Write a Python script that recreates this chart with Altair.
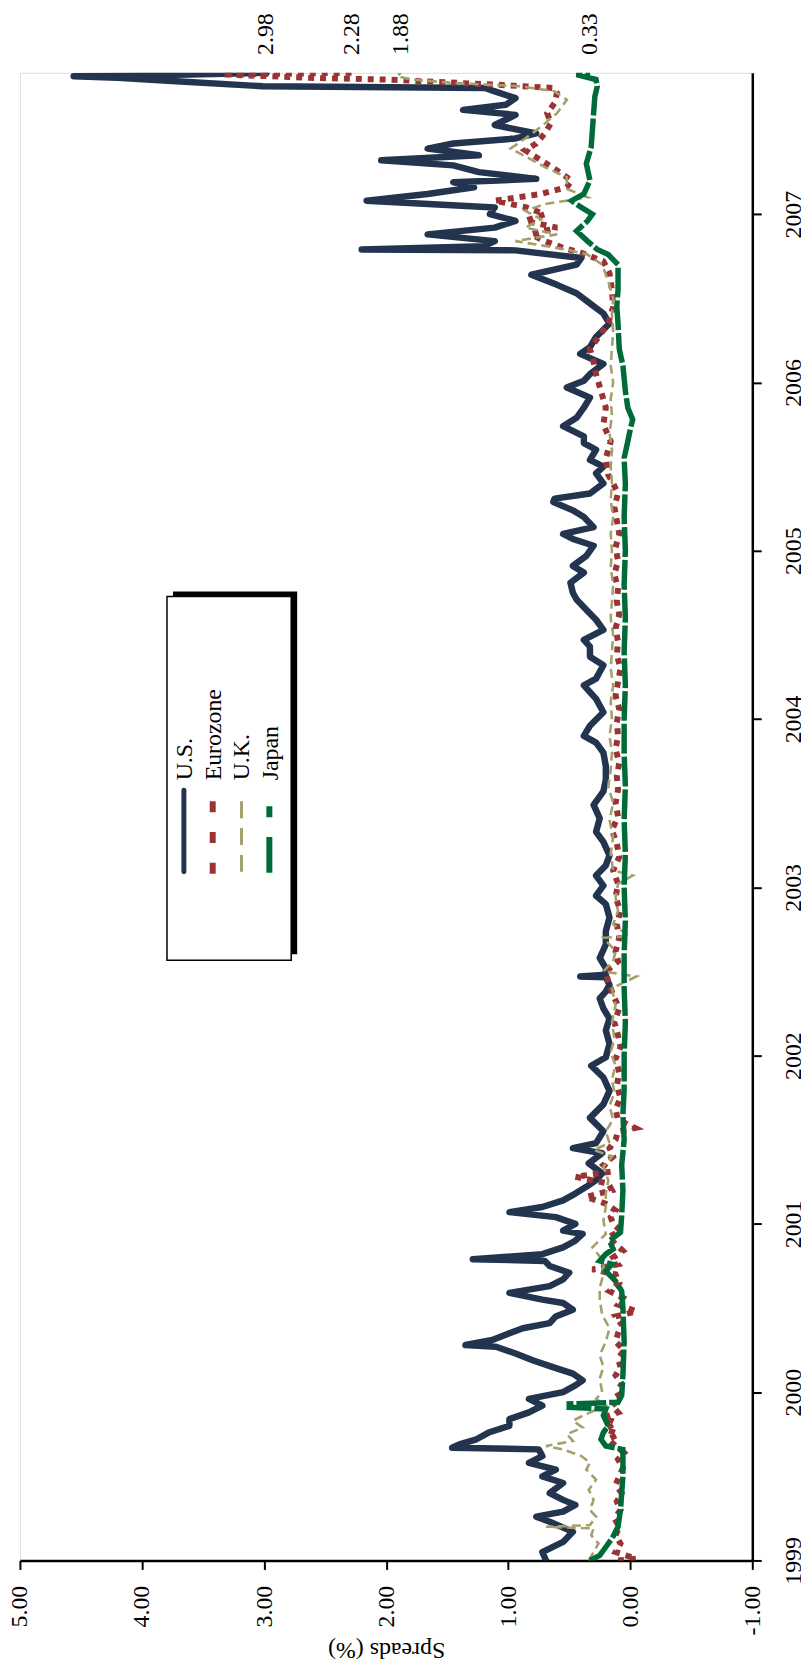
import altair as alt
import pandas as pd

# ---------------- data (decimal years, spread in %) ----------------
us_year = [1999.00, 1999.05, 1999.11, 1999.17, 1999.23, 1999.26, 1999.29, 1999.33, 1999.36, 1999.40,
           1999.46, 1999.50, 1999.54, 1999.58, 1999.62, 1999.66, 1999.67, 1999.69, 1999.72, 1999.76,
           1999.80, 1999.84, 1999.88, 1999.92, 1999.96, 2000.00, 2000.04, 2000.07, 2000.11, 2000.15,
           2000.19, 2000.23, 2000.27, 2000.28, 2000.31, 2000.35, 2000.38, 2000.41, 2000.45, 2000.49,
           2000.53, 2000.55, 2000.59, 2000.63, 2000.67, 2000.71, 2000.75, 2000.78, 2000.79, 2000.82,
           2000.86, 2000.90, 2000.94, 2000.96, 2001.00, 2001.04, 2001.07, 2001.10, 2001.14, 2001.18,
           2001.22, 2001.26, 2001.30, 2001.36, 2001.42, 2001.45, 2001.48, 2001.55, 2001.63, 2001.71,
           2001.79, 2001.87, 2001.94, 2001.99, 2002.07, 2002.15, 2002.22, 2002.28, 2002.34, 2002.38,
           2002.42, 2002.465, 2002.47, 2002.48, 2002.52, 2002.58, 2002.66, 2002.74, 2002.82, 2002.90,
           2002.95, 2003.01, 2003.07, 2003.13, 2003.19, 2003.27, 2003.33, 2003.41, 2003.49, 2003.57,
           2003.64, 2003.72, 2003.80, 2003.86, 2003.90, 2003.96, 2004.04, 2004.12, 2004.20, 2004.24,
           2004.32, 2004.37, 2004.43, 2004.47, 2004.53, 2004.59, 2004.65, 2004.71, 2004.75, 2004.81,
           2004.87, 2004.91, 2004.97, 2005.03, 2005.07, 2005.10, 2005.14, 2005.20, 2005.24, 2005.29,
           2005.31, 2005.34, 2005.40, 2005.46, 2005.50, 2005.54, 2005.60, 2005.64, 2005.68, 2005.74,
           2005.79, 2005.85, 2005.91, 2005.97, 2006.01, 2006.05, 2006.11, 2006.17, 2006.21, 2006.27,
           2006.35, 2006.41, 2006.47, 2006.53, 2006.58, 2006.64, 2006.70, 2006.74, 2006.785, 2006.79,
           2006.81, 2006.84, 2006.88, 2006.92, 2006.96, 2007.00, 2007.04, 2007.08, 2007.12, 2007.16,
           2007.19, 2007.21, 2007.25, 2007.29, 2007.32, 2007.35, 2007.39, 2007.42, 2007.45, 2007.48,
           2007.53, 2007.59, 2007.62, 2007.65, 2007.69, 2007.73, 2007.75, 2007.76, 2007.79, 2007.81,
           2007.82, 2007.83, 2007.84]
us_val = [0.69, 0.72, 0.55, 0.47, 0.66, 0.77, 0.55, 0.45, 0.55, 0.66,
          0.55, 0.72, 0.61, 0.83, 0.72, 0.75, 1.46, 1.40, 1.26, 1.16,
          0.99, 0.99, 0.83, 0.72, 0.83, 0.55, 0.45, 0.39, 0.47, 0.64,
          0.80, 0.94, 1.10, 1.35, 1.13, 0.99, 0.88, 0.66, 0.61, 0.47,
          0.55, 0.72, 0.99, 0.66, 0.55, 0.50, 0.66, 0.70, 1.29, 0.72,
          0.55, 0.45, 0.39, 0.55, 0.45, 0.61, 0.99, 0.72, 0.55, 0.45,
          0.36, 0.28, 0.23, 0.34, 0.23, 0.47, 0.28, 0.22, 0.33, 0.22,
          0.17, 0.22, 0.32, 0.20, 0.17, 0.20, 0.17, 0.22, 0.25, 0.20,
          0.17, 0.20, 0.41, 0.20, 0.20, 0.25, 0.20, 0.20, 0.17, 0.20,
          0.28, 0.22, 0.28, 0.20, 0.17, 0.22, 0.28, 0.25, 0.30, 0.22,
          0.20, 0.20, 0.22, 0.28, 0.38, 0.33, 0.22, 0.28, 0.38, 0.28,
          0.22, 0.33, 0.33, 0.38, 0.22, 0.28, 0.36, 0.44, 0.47, 0.49,
          0.38, 0.47, 0.36, 0.30, 0.47, 0.55, 0.30, 0.38, 0.47, 0.63,
          0.62, 0.33, 0.22, 0.28, 0.22, 0.33, 0.28, 0.38, 0.38, 0.55,
          0.44, 0.38, 0.33, 0.52, 0.38, 0.33, 0.22, 0.41, 0.33, 0.28,
          0.17, 0.22, 0.33, 0.44, 0.60, 0.81, 0.44, 0.40, 0.94, 2.20,
          1.20, 1.11, 1.66, 1.11, 0.94, 1.15, 1.11, 2.16, 1.66, 1.28,
          1.45, 0.77, 1.24, 1.45, 2.04, 1.24, 1.66, 1.45, 0.94, 0.77,
          1.11, 0.94, 1.37, 1.02, 0.94, 1.11, 1.19, 3.01, 3.72, 4.20,
          4.56, 3.60, 2.98]

ez_year = [1999.00, 1999.01, 1999.05, 1999.10, 1999.15, 1999.20, 1999.25, 1999.30, 1999.35, 1999.40,
           1999.45, 1999.50, 1999.55, 1999.60, 1999.64, 1999.68, 1999.72, 1999.75, 1999.78, 1999.82,
           1999.85, 1999.88, 1999.92, 1999.96, 2000.00, 2000.05, 2000.10, 2000.15, 2000.20, 2000.25,
           2000.30, 2000.35, 2000.40, 2000.45, 2000.48, 2000.52, 2000.56, 2000.60, 2000.65, 2000.70,
           2000.73, 2000.76, 2000.80, 2000.84, 2000.88, 2000.92, 2000.96, 2001.00, 2001.04, 2001.08,
           2001.12, 2001.16, 2001.20, 2001.24, 2001.28, 2001.31, 2001.35, 2001.40, 2001.45, 2001.50,
           2001.55, 2001.57, 2001.62, 2001.68, 2001.75, 2001.82, 2001.90, 2001.98, 2002.05, 2002.12,
           2002.20, 2002.28, 2002.36, 2002.44, 2002.50, 2002.56, 2002.62, 2002.70, 2002.78, 2002.86,
           2002.94, 2003.02, 2003.10, 2003.18, 2003.26, 2003.34, 2003.42, 2003.50, 2003.58, 2003.66,
           2003.74, 2003.82, 2003.90, 2003.98, 2004.06, 2004.14, 2004.22, 2004.30, 2004.38, 2004.46,
           2004.54, 2004.62, 2004.70, 2004.78, 2004.86, 2004.94, 2005.02, 2005.10, 2005.18, 2005.26,
           2005.34, 2005.40, 2005.45, 2005.55, 2005.65, 2005.75, 2005.85, 2005.95, 2006.05, 2006.12,
           2006.20, 2006.27, 2006.35, 2006.45, 2006.55, 2006.65, 2006.72, 2006.77, 2006.80, 2006.84,
           2006.88, 2006.92, 2006.96, 2007.00, 2007.04, 2007.08, 2007.12, 2007.16, 2007.20, 2007.26,
           2007.32, 2007.38, 2007.42, 2007.48, 2007.54, 2007.60, 2007.66, 2007.72, 2007.75, 2007.77,
           2007.79, 2007.80, 2007.81, 2007.82, 2007.83, 2007.84]
ez_val = [0.10, -0.05, 0.12, 0.08, 0.12, 0.09, 0.13, 0.08, 0.11, 0.07,
          0.12, 0.09, 0.06, 0.10, 0.05, 0.12, 0.18, 0.10, 0.20, 0.12,
          0.22, 0.10, 0.15, 0.08, 0.11, 0.07, 0.12, 0.08, 0.10, 0.05,
          0.12, 0.10, 0.07, 0.12, -0.05, 0.10, 0.06, 0.17, 0.09, 0.12,
          0.31, 0.10, 0.14, 0.06, 0.12, 0.18, 0.08, 0.14, 0.16, 0.12,
          0.20, 0.36, 0.15, 0.18, 0.45, 0.16, 0.22, 0.14, 0.17, 0.12,
          0.10, -0.04, 0.10, 0.12, 0.08, 0.11, 0.09, 0.12, 0.08, 0.10,
          0.13, 0.09, 0.14, 0.18, 0.20, 0.10, 0.12, 0.09, 0.11, 0.08,
          0.12, 0.10, 0.14, 0.09, 0.11, 0.15, 0.10, 0.12, 0.10, 0.11,
          0.09, 0.12, 0.10, 0.11, 0.09, 0.12, 0.10, 0.08, 0.11, 0.10,
          0.12, 0.09, 0.11, 0.10, 0.13, 0.10, 0.12, 0.09, 0.11, 0.13,
          0.10, 0.14, 0.18, 0.20, 0.16, 0.22, 0.20, 0.24, 0.28, 0.30,
          0.33, 0.26, 0.18, 0.14, 0.15, 0.17, 0.22, 0.40, 0.55, 0.70,
          0.81, 0.60, 0.86, 0.70, 0.85, 1.11, 0.73, 0.52, 0.48, 0.60,
          0.73, 0.86, 0.77, 0.70, 0.65, 0.68, 0.62, 0.60, 0.63, 1.11,
          1.70, 2.00, 2.63, 2.97, 3.34, 2.28]

uk_year = [1999.00, 1999.05, 1999.10, 1999.15, 1999.19, 1999.20, 1999.21, 1999.26, 1999.30, 1999.36,
           1999.42, 1999.48, 1999.54, 1999.58, 1999.62, 1999.66, 1999.68, 1999.71, 1999.75, 1999.79,
           1999.83, 1999.87, 1999.92, 1999.96, 2000.00, 2000.08, 2000.15, 2000.22, 2000.30, 2000.38,
           2000.46, 2000.55, 2000.62, 2000.70, 2000.78, 2000.86, 2000.94, 2001.02, 2001.10, 2001.18,
           2001.26, 2001.34, 2001.40, 2001.44, 2001.48, 2001.55, 2001.62, 2001.70, 2001.78, 2001.86,
           2001.94, 2002.02, 2002.10, 2002.20, 2002.30, 2002.40, 2002.47, 2002.50, 2002.56, 2002.62,
           2002.70, 2002.71, 2002.78, 2002.86, 2002.94, 2003.02, 2003.07, 2003.10, 2003.20, 2003.30,
           2003.40, 2003.50, 2003.60, 2003.70, 2003.80, 2003.90, 2004.00, 2004.10, 2004.20, 2004.30,
           2004.40, 2004.50, 2004.60, 2004.70, 2004.80, 2004.90, 2005.00, 2005.10, 2005.20, 2005.30,
           2005.40, 2005.50, 2005.60, 2005.70, 2005.80, 2005.90, 2006.00, 2006.10, 2006.20, 2006.30,
           2006.40, 2006.50, 2006.60, 2006.70, 2006.76, 2006.79, 2006.84, 2006.88, 2006.92, 2006.97,
           2007.02, 2007.06, 2007.10, 2007.15, 2007.22, 2007.28, 2007.34, 2007.39, 2007.45, 2007.52,
           2007.60, 2007.68, 2007.73, 2007.76, 2007.78, 2007.80, 2007.82, 2007.84]
uk_val = [0.34, 0.30, 0.26, 0.32, 0.30, 0.69, 0.33, 0.28, 0.33, 0.30,
          0.34, 0.28, 0.36, 0.33, 0.40, 0.55, 0.69, 0.47, 0.52, 0.39,
          0.47, 0.36, 0.20, 0.28, 0.23, 0.25, 0.22, 0.25, 0.20, 0.17,
          0.23, 0.25, 0.25, 0.22, 0.22, 0.31, 0.20, 0.22, 0.20, 0.20,
          0.18, 0.22, 0.15, 0.30, 0.17, 0.20, 0.14, 0.17, 0.13, 0.15,
          0.12, 0.16, 0.13, 0.15, 0.12, 0.15, -0.05, 0.22, 0.14, 0.12,
          0.22, 0.01, 0.14, 0.10, 0.12, 0.10, -0.02, 0.14, 0.16, 0.14,
          0.17, 0.14, 0.18, 0.16, 0.15, 0.17, 0.15, 0.16, 0.14, 0.16,
          0.15, 0.14, 0.16, 0.15, 0.14, 0.16, 0.15, 0.16, 0.14, 0.16,
          0.15, 0.16, 0.15, 0.17, 0.15, 0.16, 0.14, 0.16, 0.15, 0.14,
          0.15, 0.14, 0.18, 0.23, 0.35, 0.52, 0.94, 0.60, 0.86, 0.73,
          0.86, 0.70, 0.35, 0.52, 0.52, 0.70, 0.85, 0.98, 0.86, 0.73,
          0.60, 0.52, 0.62, 0.90, 1.45, 1.79, 1.91, 1.88]

jp_year = [1999.00, 1999.03, 1999.08, 1999.13, 1999.20, 1999.30, 1999.40, 1999.50, 1999.60, 1999.66,
           1999.68, 1999.72, 1999.76, 1999.80, 1999.86, 1999.90, 1999.91, 1999.93, 1999.94, 1999.98,
           2000.10, 2000.30, 2000.50, 2000.60, 2000.66, 2000.72, 2000.76, 2000.78, 2000.82, 2000.85,
           2000.90, 2000.95, 2001.05, 2001.20, 2001.35, 2001.50, 2001.65, 2001.80, 2002.00, 2002.20,
           2002.40, 2002.60, 2002.80, 2003.00, 2003.20, 2003.40, 2003.60, 2003.80, 2004.00, 2004.20,
           2004.40, 2004.60, 2004.80, 2005.00, 2005.20, 2005.40, 2005.55, 2005.65, 2005.72, 2005.78,
           2005.85, 2005.95, 2006.10, 2006.20, 2006.35, 2006.45, 2006.55, 2006.70, 2006.76, 2006.79,
           2006.84, 2006.90, 2006.96, 2007.00, 2007.04, 2007.08, 2007.12, 2007.20, 2007.30, 2007.40,
           2007.50, 2007.60, 2007.70, 2007.76, 2007.80, 2007.83, 2007.84]
jp_val = [0.33, 0.25, 0.20, 0.15, 0.10, 0.08, 0.07, 0.06, 0.06, 0.06,
          0.20, 0.24, 0.22, 0.18, 0.22, 0.20, 0.50, 0.50, 0.10, 0.07,
          0.06, 0.05, 0.06, 0.07, 0.12, 0.20, 0.15, 0.25, 0.20, 0.14,
          0.17, 0.08, 0.07, 0.06, 0.07, 0.05, 0.06, 0.05, 0.05, 0.04,
          0.05, 0.05, 0.04, 0.05, 0.04, 0.05, 0.04, 0.05, 0.05, 0.04,
          0.05, 0.04, 0.05, 0.04, 0.05, 0.04, 0.05, 0.02, 0.00, -0.02,
          0.02, 0.04, 0.06, 0.09, 0.10, 0.11, 0.10, 0.10, 0.18, 0.27,
          0.35, 0.44, 0.35, 0.31, 0.40, 0.48, 0.38, 0.33, 0.36, 0.32,
          0.31, 0.30, 0.29, 0.27, 0.28, 0.44, 0.33]

series_names = ["U.S.", "Eurozone", "U.K.", "Japan"]
series_colors = ["#23344f", "#9a3434", "#a5a06b", "#006b38"]
year_ticks = [1999, 2000, 2001, 2002, 2003, 2004, 2005, 2006, 2007]
spread_ticks = [-1, 0, 1, 2, 3, 4, 5]

FONT = "Liberation Serif"
W, H = 737, 1497
SPREAD_LABEL = "datum.value < 0 ? '-' + format(-datum.value, '.2f') : format(datum.value, '.2f')"

x_scale = alt.Scale(domain=[-1, 5], reverse=True, nice=False, zero=False)
x_enc = alt.X(
    "value:Q",
    scale=x_scale,
    axis=alt.Axis(
        values=spread_ticks, labelExpr=SPREAD_LABEL, labelAngle=270, labelAlign="right",
        labelBaseline="middle", labelFont=FONT, labelFontSize=24, labelColor="black",
        labelPadding=16, labelOverlap=False, labelFlush=False, tickSize=9, tickWidth=2,
        tickColor="black", domainColor="black", domainWidth=2.5, grid=False,
        title="Spreads (%)", titleAngle=180, titleFont=FONT, titleFontSize=24,
        titleFontWeight="normal", titleColor="black", titleY=90, titleBaseline="middle",
    ),
)
y_enc = alt.Y(
    "year:Q",
    scale=alt.Scale(domain=[1999, 2007.84], nice=False, zero=False),
    axis=alt.Axis(
        orient="right", values=year_ticks, format="d", labelAngle=270, labelAlign="center",
        labelBaseline="top", labelFont=FONT, labelFontSize=24, labelColor="black",
        labelPadding=20, labelOverlap=False, labelFlush=False, tickSize=9, tickWidth=2,
        tickColor="black", domainColor="black", domainWidth=2.5, grid=False, title=None,
    ),
)

styles = [
    dict(strokeWidth=6.5, strokeCap="round", strokeJoin="round"),
    dict(strokeWidth=6, strokeDash=[6, 6], strokeCap="butt"),
    dict(strokeWidth=2.6, strokeDash=[9, 5], strokeCap="butt"),
    dict(strokeWidth=5.5, strokeDash=[30, 3], strokeCap="butt"),
]
data_sets = [(us_year, us_val), (ez_year, ez_val), (uk_year, uk_val), (jp_year, jp_val)]

layers = []
for name, color, style, (yrs, vals) in zip(series_names, series_colors, styles, data_sets):
    df = pd.DataFrame({"year": yrs, "value": vals, "series": name})
    layers.append(
        alt.Chart(df).mark_line(color=color, clip=True, **style).encode(
            x=x_enc, y=y_enc, order="year:Q"
        )
    )

# end-of-sample value labels above the plot
end_df = pd.DataFrame({
    "series": series_names,
    "value": [us_val[-1], ez_val[-1], uk_val[-1], jp_val[-1]],
})
end_df["label"] = end_df["value"].map(lambda v: f"{v:.2f}")
layers.append(
    alt.Chart(end_df).mark_text(
        angle=270, align="left", baseline="middle", font=FONT, fontSize=24, color="black"
    ).encode(x=alt.X("value:Q", scale=x_scale), y=alt.value(-18), text="label:N")
)

# legend box (drawn by hand so text can be rotated)
one = pd.DataFrame({"k": [0]})
layers.append(alt.Chart(one).mark_rect(color="black").encode(
    x=alt.value(154), x2=alt.value(279), y=alt.value(522), y2=alt.value(887)))
layers.append(alt.Chart(one).mark_rect(fill="white", stroke="black", strokeWidth=1.5).encode(
    x=alt.value(148), x2=alt.value(273), y=alt.value(527), y2=alt.value(893)))

leg_x = [165, 194, 223, 251]
leg_text_x = [166, 195, 224, 253]
leg_y = [(804, 722), (806, 733), (804, 730), (805, 738)]
leg_styles = [
    dict(strokeWidth=5, strokeCap="round"),
    dict(strokeWidth=6, strokeDash=[11, 20], strokeCap="butt"),
    dict(strokeWidth=3, strokeDash=[17, 10], strokeCap="butt"),
    dict(strokeWidth=6, strokeDash=[36, 20], strokeCap="butt"),
]
for name, color, lx, tx, (y1, y2), st in zip(series_names, series_colors, leg_x, leg_text_x, leg_y, leg_styles):
    layers.append(alt.Chart(one).mark_rule(color=color, **st).encode(
        x=alt.value(lx), y=alt.value(y1), y2=alt.value(y2)))
    layers.append(alt.Chart(one).mark_text(
        angle=270, align="left", baseline="middle", font=FONT, fontSize=24, color="black"
    ).encode(x=alt.value(tx), y=alt.value(712), text=alt.value(name)))

chart = alt.layer(*layers).properties(
    width=W, height=H,
    autosize=alt.AutoSizeParams(type="none"),
    padding={"left": 12, "top": 60, "right": 49, "bottom": 103},
).configure_view(stroke=None).configure(background="white")

chart.save("out.html", embed_options={"renderer": "svg", "actions": False})
